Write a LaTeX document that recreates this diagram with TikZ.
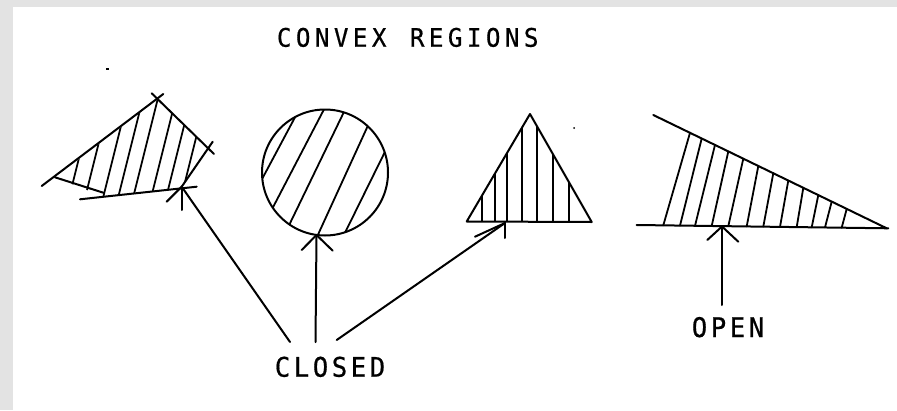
\documentclass[tikz,border=0pt]{standalone}
\usepackage{fontspec}
\usepackage{graphicx}
\newfontfamily\plotfont[FakeBold=0.6]{DejaVu Sans Mono}
\usetikzlibrary{calc}
\newcommand\pltch[1]{\makebox[19pt][c]{\scalebox{0.95}[1]{#1}}}
\newcommand\pltgap{\hspace{19pt}}
\begin{document}
\begin{tikzpicture}[x=1pt,y=-1pt, line width=2pt, line cap=round, line join=round,
  hatch/.style={line width=1.8pt},
  lbl/.style={anchor=base west, inner sep=0pt, font=\plotfont\fontsize{27}{29}\selectfont},
  ttl/.style={anchor=base west, inner sep=0pt, font=\plotfont\fontsize{25.5}{28}\selectfont}]
% background and margins
\fill[gray!22] (0,0) rectangle (897,410);
\fill[white] (13,7) rectangle (897,410);
\useasboundingbox (0,0) rectangle (897,410);

% ---------- quadrilateral ----------
\coordinate (qA) at (55,177.3);
\coordinate (qB) at (157.7,99.3);
\coordinate (qC) at (208.2,148.3);
\coordinate (qD) at (181.7,187.5);
\coordinate (qE) at (103.3,196.5);
\begin{scope}
  \clip (qA) -- (qB) -- (qC) -- (qD) -- (qE) -- cycle;
  \foreach \x in {71,87,105,120,135,153,168,183}
    \draw[hatch] (\x-5,210) -- (\x+30,70);
\end{scope}
\draw (41.7,186) -- (163.3,94);
\draw (151.7,93.3) -- (214,154);
\draw (181.7,186.7) -- (212.7,141.7);
\draw (80,199.3) -- (196.7,186.7);
\draw (55,177.3) -- (103.3,192.7);

% ---------- circle ----------
\coordinate (cc) at (325,172.5);
\begin{scope}
  \clip (cc) circle (63pt);
  \foreach \ax/\ay/\bx/\by in {263.3/176.7/295/117.3, 273.3/206.7/323.3/110.7,
      290/223.3/343.3/113.3, 318.3/234/366.7/128.3, 346.7/229.3/385/151.7}
    \draw[hatch] ($(\ax,\ay)!-0.6!(\bx,\by)$) -- ($(\ax,\ay)!1.6!(\bx,\by)$);
\end{scope}
\draw (cc) circle (63pt);

% ---------- triangle ----------
\coordinate (tA) at (530,114);
\coordinate (tL) at (466.7,221.5);
\coordinate (tR) at (591.7,222);
\begin{scope}
  \clip (tA) -- (tL) -- (tR) -- cycle;
  \foreach \x in {482.3,495,507,521.7,537.3,552.7,569.3}
    \draw[hatch] (\x,100) -- (\x,230);
\end{scope}
\draw (tA) -- (tL) -- (tR) -- cycle;

% ---------- open region ----------
\draw (653.3,115) -- (886.7,228.3);
\draw (636.7,225) -- (888.3,228.3);
\foreach \bx/\by/\tx/\ty in {663.3/225.3/690/132.8, 680/225.6/701.7/138.5,
    695/225.8/715/144.9, 711.7/226/728.3/151.4, 728.3/226.2/743.3/158.7,
    746.7/226.4/758.3/166, 763.3/226.6/773.3/173.2, 780/226.9/788.3/180.5,
    796.7/227.1/803.3/187.8, 811.7/227.3/818.3/195.1, 825/227.4/831.7/201.6,
    841.7/227.7/846.7/208.9}
  \draw[hatch] (\bx,\by) -- (\tx,\ty);

% ---------- labels ----------
\node[ttl] (title) at (273.7,46.7)
  {\pltch{C}\pltch{O}\pltch{N}\pltch{V}\pltch{E}\pltch{X}\pltgap\pltch{R}\pltch{E}\pltch{G}\pltch{I}\pltch{O}\pltch{N}\pltch{S}};
\node[lbl] (closed) at (272,376.7)
  {\pltch{C}\pltch{L}\pltch{O}\pltch{S}\pltch{E}\pltch{D}};
\node[lbl] (open) at (689,337)
  {\pltch{O}\pltch{P}\pltch{E}\pltch{N}};

% ---------- arrows ----------
\coordinate (qtip) at (181.7,186.7);
\coordinate (ctip) at (316.5,235);
\coordinate (ttip) at (505,223);
\coordinate (otip) at (722,226.5);
\coordinate (qtail) at (290,342);
\coordinate (ctail) at (315.5,342);
\coordinate (ttail) at (336.7,340);
\coordinate (otail) at (722,305);

\draw (qtail) -- (qtip);
\draw (qtip) -- (166.7,201.7);
\draw (qtip) -- (181.7,210);

\draw (ctail) -- (ctip);
\draw (ctip) -- (301.7,250);
\draw (ctip) -- (332.7,250.7);

\draw (ttail) -- (ttip);
\draw (ttip) -- (475,236.7);
\draw (ttip) -- (505,238);

\draw (otail) -- (otip);
\draw (otip) -- (707.3,240);
\draw (otip) -- (738.3,241.7);

% ---------- specks ----------
\fill (105.5,68.3) rectangle (109,70);
\fill (574,128) circle (1pt);
\end{tikzpicture}
\end{document}
